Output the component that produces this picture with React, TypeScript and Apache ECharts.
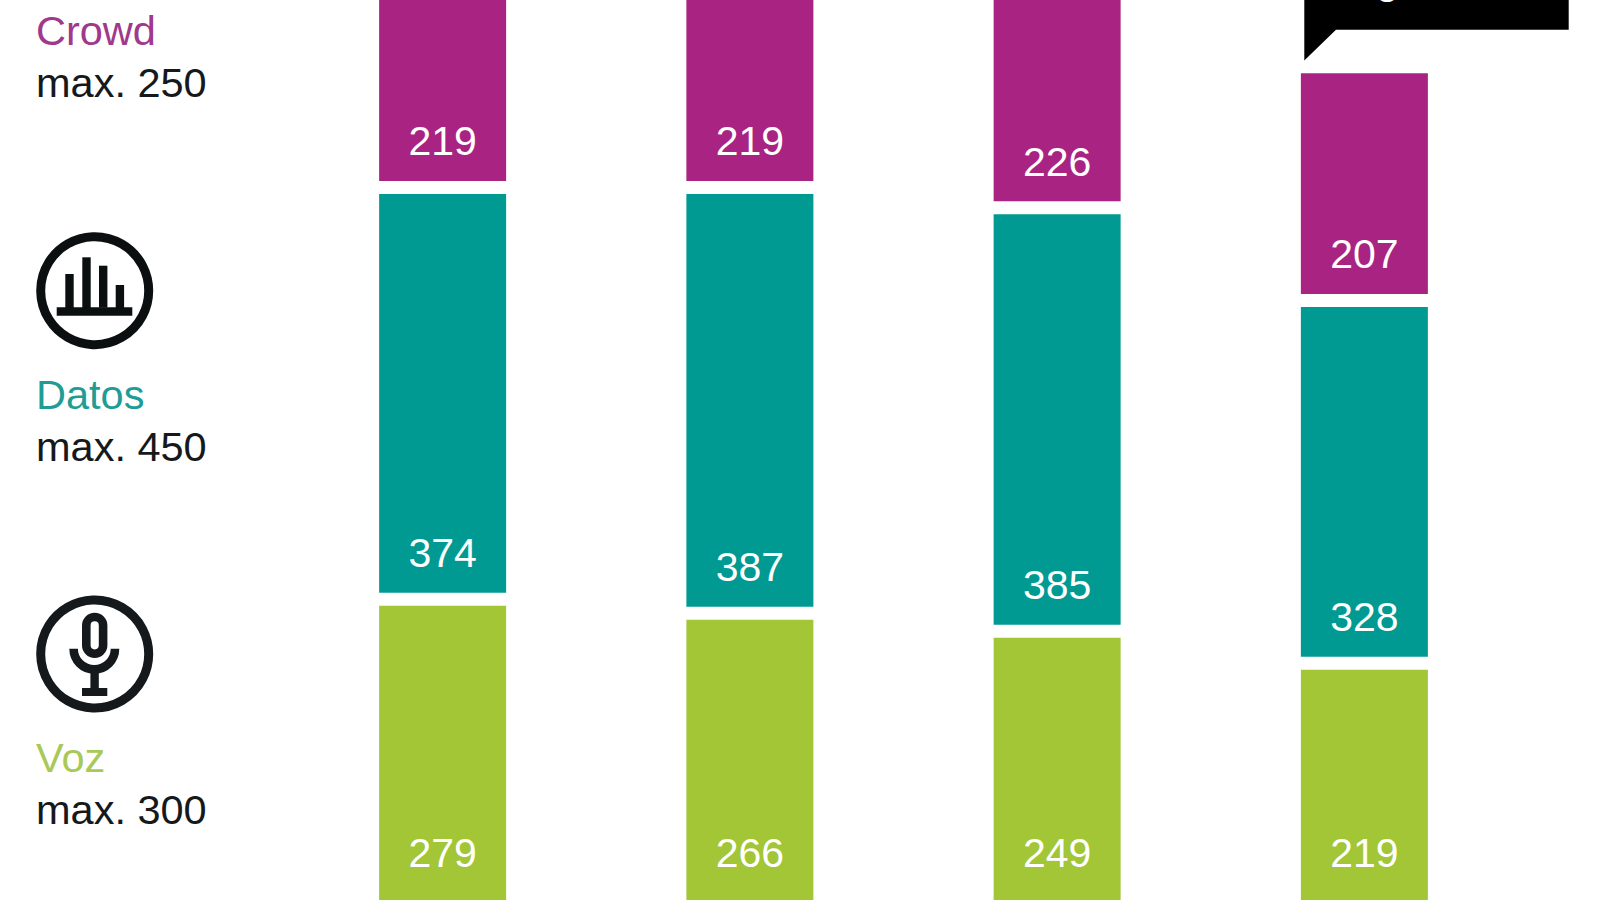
import React, { useEffect, useRef } from "react";
import * as echarts from "echarts";

const categories = ["1", "2", "3", "4"];
const voz = [279, 266, 249, 219];
const datos = [374, 387, 385, 328];
const crowd = [219, 219, 226, 207];
// white space between the stacked blocks
const gap = [12.2, 12.2, 12.2, 12.2];

const legendNames = ["Crowd", "Datos", "Voz"];
const legendMax = ["max. 250", "max. 450", "max. 300"];

const MAGENTA = "#A92382";
const TEAL = "#009A92";
const GREEN = "#A2C636";
const INK = "#15191B";
const FONT = '"Liberation Sans", Arial, sans-serif';

const blockLabel = (distance: number) => ({
  show: true,
  position: "insideBottom",
  distance,
  color: "#fff",
  fontSize: 41,
  fontFamily: FONT,
});

const legendText = (text: string, y: number, fill: string) => ({
  type: "text",
  x: 36,
  y,
  style: { text, fill, font: `41.5px ${FONT}`, verticalAlign: "middle" },
});

const App = () => {
  const chartRef = useRef<HTMLDivElement>(null);

  useEffect(() => {
    if (!chartRef.current) return;
    const chart = echarts.init(chartRef.current, undefined, { renderer: "svg" });
    chart.setOption({
      animation: false,
      backgroundColor: "#fff",
      // the source image is cropped, so the plot runs past the top and bottom
      grid: { left: 289, right: 82, top: -97, bottom: -3.4, outerBoundsMode: "none" },
      xAxis: { type: "category", data: categories, show: false },
      yAxis: { type: "value", min: 0, max: 938, show: false },
      series: [
        {
          name: "Voz",
          type: "bar",
          stack: "total",
          barWidth: 127,
          data: voz,
          itemStyle: { color: GREEN },
          label: blockLabel(30),
        },
        { name: "gap1", type: "bar", stack: "total", data: gap, silent: true, itemStyle: { color: "transparent" } },
        {
          name: "Datos",
          type: "bar",
          stack: "total",
          data: datos,
          itemStyle: { color: TEAL },
          label: blockLabel(19),
        },
        { name: "gap2", type: "bar", stack: "total", data: gap, silent: true, itemStyle: { color: "transparent" } },
        {
          name: "Crowd",
          type: "bar",
          stack: "total",
          data: crowd,
          itemStyle: { color: MAGENTA },
          label: blockLabel(19),
        },
      ],
      graphic: [
        legendText(legendNames[0], 30, "#A0388C"),
        legendText(legendMax[0], 82.5, INK),
        legendText(legendNames[1], 394, "#1E9C95"),
        legendText(legendMax[1], 446.5, INK),
        legendText(legendNames[2], 757, "#A8C958"),
        legendText(legendMax[2], 809, INK),

        // chart icon
        { type: "circle", shape: { cx: 94.7, cy: 290.7, r: 54 }, style: { fill: "none", stroke: "#0B0F10", lineWidth: 9 } },
        { type: "rect", shape: { x: 65.3, y: 274, width: 8.4, height: 34 }, style: { fill: "#0B0F10" } },
        { type: "rect", shape: { x: 82.3, y: 257.3, width: 8.4, height: 51 }, style: { fill: "#0B0F10" } },
        { type: "rect", shape: { x: 99, y: 265.7, width: 8.4, height: 42 }, style: { fill: "#0B0F10" } },
        { type: "rect", shape: { x: 115.7, y: 285, width: 8.4, height: 23 }, style: { fill: "#0B0F10" } },
        { type: "rect", shape: { x: 56.7, y: 307.3, width: 75.6, height: 8.4 }, style: { fill: "#0B0F10" } },

        // microphone icon
        { type: "circle", shape: { cx: 94.7, cy: 654, r: 54 }, style: { fill: "none", stroke: INK, lineWidth: 9 } },
        {
          type: "rect",
          shape: { x: 86.3, y: 617, width: 16.8, height: 36.7, r: 8.4 },
          style: { fill: "none", stroke: INK, lineWidth: 8.6 },
        },
        {
          type: "arc",
          shape: { cx: 94.3, cy: 648.7, r: 20.7, startAngle: 0, endAngle: Math.PI, clockwise: true },
          style: { fill: "none", stroke: INK, lineWidth: 8.6 },
        },
        { type: "rect", shape: { x: 90.4, y: 670, width: 8.4, height: 20 }, style: { fill: INK } },
        { type: "rect", shape: { x: 82, y: 688, width: 25.3, height: 8 }, style: { fill: INK } },

        // callout, cut off by the top edge
        {
          type: "polygon",
          shape: {
            points: [
              [1304.3, -10],
              [1568.7, -10],
              [1568.7, 29.7],
              [1336, 29.7],
              [1304.3, 60.5],
            ],
          },
          style: { fill: "#000" },
        },
        {
          type: "text",
          x: 1376,
          y: -20,
          style: { text: "g", fill: "#fff", font: `41px ${FONT}`, verticalAlign: "middle" },
        },
      ],
    });
    return () => {
      chart.dispose();
    };
  }, []);

  return <div ref={chartRef} style={{ position: "fixed", left: 0, top: 0, width: 1600, height: 900 }} />;
};

export default App;
